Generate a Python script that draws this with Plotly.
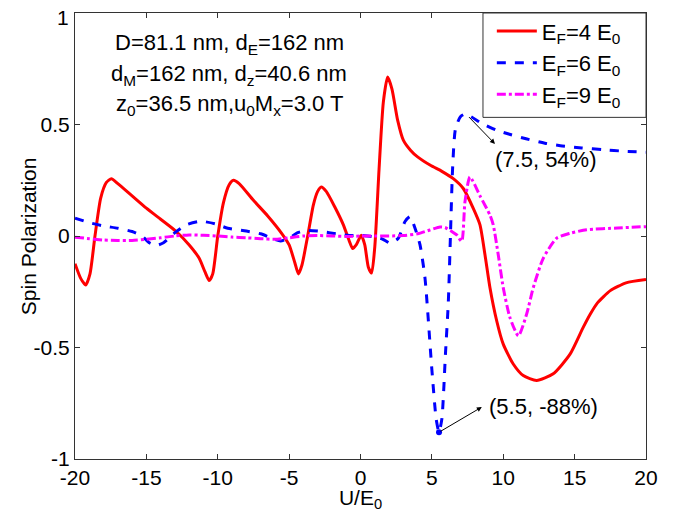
import plotly.graph_objects as go

# ---- data ----
red_x = [-20, -19.6, -19.25, -18.95, -18.6, -18.2, -17.8, -17.45, -17.0, -16.0, -15.0, -14.0, -13.0, -12.0,
         -11.3, -10.9, -10.6, -10.35, -10.0, -9.6, -9.2, -8.9, -8.5, -7.5, -6.5, -5.5, -5.0, -4.6, -4.35,
         -4.1, -3.7, -3.3, -3.0, -2.75, -2.4, -1.8, -1.2, -0.8, -0.55, -0.3, 0.05, 0.3, 0.55, 0.78, 1.0,
         1.3, 1.6, 1.9, 2.2, 2.6, 3.0, 3.5, 4.0, 4.9, 5.7, 6.5, 7.2, 7.9, 8.37, 8.72, 9.07, 9.54, 10.0,
         10.7, 11.4, 12.34, 13.5, 14.68, 15.6, 16.1, 16.6, 17.5, 18.6, 20.0]
red_y = [-0.124, -0.19, -0.22, -0.17, 0.0, 0.17, 0.24, 0.257, 0.235, 0.18, 0.125, 0.075, 0.025, -0.04,
         -0.1, -0.16, -0.2, -0.17, 0.0, 0.15, 0.23, 0.25, 0.235, 0.16, 0.09, 0.01, -0.04, -0.12, -0.17,
         -0.13, 0.0, 0.14, 0.2, 0.22, 0.2, 0.13, 0.05, -0.02, -0.056, -0.04, 0.003, -0.04, -0.14, -0.166, -0.05,
         0.3, 0.6, 0.713, 0.66, 0.52, 0.43, 0.385, 0.355, 0.317, 0.29, 0.257, 0.213, 0.124, 0.05, -0.084, -0.232,
         -0.38, -0.485, -0.574, -0.626, -0.648, -0.618, -0.53, -0.41, -0.35, -0.3, -0.245, -0.21, -0.195]

blue_x = [-20, -19, -18, -17, -16, -15.3, -14.8, -14.3, -13.8, -13.0, -12.2, -11.2, -10.2, -9.3, -8.0,
          -7.0, -6.2, -5.6, -5.0, -4.4, -3.8, -3.0, -2.2, -1.5, -0.8, 0.0, 0.8, 1.4, 1.72, 2.07, 2.65, 3.12,
          3.47, 3.82, 4.17, 4.52, 5.0, 5.3, 5.5, 5.7, 5.95, 6.15, 6.3, 6.45, 6.65, 7.0, 7.35, 8.5, 9.5, 10.5,
          11.6, 13.0, 14.0, 15.5, 17.0, 18.5, 20.0]
blue_y = [0.08, 0.06, 0.045, 0.035, 0.02, 0.0, -0.03, -0.042, -0.03, 0.015, 0.05, 0.066, 0.055, 0.035, 0.022,
          0.01, -0.01, -0.022, -0.01, 0.015, 0.025, 0.022, 0.015, 0.008, 0.002, 0.003, -0.002, -0.01, -0.02, -0.032,
          -0.01, 0.065, 0.087, 0.035, -0.04, -0.19, -0.6, -0.82, -0.88, -0.82, -0.53, -0.3, 0.0, 0.3, 0.48, 0.535,
          0.547, 0.505, 0.475, 0.455, 0.436, 0.415, 0.405, 0.395, 0.387, 0.38, 0.376]

mag_x = [-20, -19, -18, -17, -16, -15, -14, -13, -12, -11, -10, -9, -8, -7, -6, -5, -4, -3, -2, -1, 0, 1, 2, 3,
         4.0, 4.87, 5.57, 5.92, 6.4, 6.74, 7.09, 7.32, 7.67, 8.37, 9.07, 9.3, 9.65, 10.0, 10.47, 11.06, 11.64,
         12.1, 12.8, 13.74, 14.68, 15.85, 18.0, 20.0]
mag_y = [-0.005, -0.012, -0.018, -0.02, -0.02, -0.015, -0.008, 0.0, 0.005, 0.003, 0.0, -0.005, -0.008, -0.012,
         -0.015, -0.008, 0.0, 0.002, 0.0, -0.002, 0.0, 0.0, 0.0, 0.002, 0.01, 0.027, 0.04, 0.038, 0.02, 0.005,
         -0.024, 0.154, 0.265, 0.18, 0.094, 0.05, -0.084, -0.232, -0.366, -0.448, -0.35, -0.232, -0.1, -0.01,
         0.012, 0.028, 0.036, 0.042]

series_names = ["E<sub>F</sub>=4 E<sub>0</sub>", "E<sub>F</sub>=6 E<sub>0</sub>", "E<sub>F</sub>=9 E<sub>0</sub>"]

x_ticks = [-20, -15, -10, -5, 0, 5, 10, 15, 20]
x_tick_labels = ["-20", "-15", "-10", "-5", "0", "5", "10", "15", "20"]
y_ticks = [-1, -0.5, 0, 0.5, 1]
y_tick_labels = ["-1", "-0.5", "0", "0.5", ""]   # top label "1" drawn separately so it is not clipped
y_top_label = "1"

# annotated extrema
peak_pt = (7.5, 0.54)
dip_pt = (5.5, -0.88)
peak_label = "(7.5, 54%)"
dip_label = "(5.5, -88%)"

info_lines = ["D=81.1 nm, d<sub>E</sub>=162 nm",
              "d<sub>M</sub>=162 nm, d<sub>z</sub>=40.6 nm",
              "z<sub>0</sub>=36.5 nm,u<sub>0</sub>M<sub>x</sub>=3.0 T"]

FONT = "Liberation Sans, Arial, sans-serif"

fig = go.Figure()
fig.add_trace(go.Scatter(x=red_x, y=red_y, mode="lines", name=series_names[0],
                         line=dict(color="#ff0000", width=3, shape="spline", smoothing=0.6)))
fig.add_trace(go.Scatter(x=blue_x, y=blue_y, mode="lines", name=series_names[1],
                         line=dict(color="#0000ff", width=3, dash="dash", shape="spline", smoothing=0.6)))
fig.add_trace(go.Scatter(x=mag_x, y=mag_y, mode="lines", name=series_names[2],
                         line=dict(color="#ff00ff", width=3, dash="dashdot", shape="spline", smoothing=0.6)))
fig.add_trace(go.Scatter(x=[dip_pt[0]], y=[dip_pt[1]], mode="markers", showlegend=False,
                         marker=dict(color="#0000ff", size=6)))

# arrows
fig.add_annotation(x=9.42, y=0.413, ax=peak_pt[0], ay=peak_pt[1], xref="x", yref="y", axref="x", ayref="y",
                   showarrow=True, arrowhead=2, arrowsize=1, arrowwidth=1, arrowcolor="black", text="")
fig.add_annotation(x=8.5, y=-0.767, ax=dip_pt[0], ay=dip_pt[1], xref="x", yref="y", axref="x", ayref="y",
                   showarrow=True, arrowhead=2, arrowsize=1, arrowwidth=1, arrowcolor="black", text="")
fig.add_annotation(x=13.0, y=0.345, xref="x", yref="y", text=peak_label, showarrow=False,
                   font=dict(size=22, color="black", family=FONT))
fig.add_annotation(x=12.8, y=-0.764, xref="x", yref="y", text=dip_label, showarrow=False,
                   font=dict(size=22, color="black", family=FONT))

for line, yy in zip(info_lines, [0.931, 0.862, 0.793]):
    fig.add_annotation(x=0.27, y=yy, xref="paper", yref="paper", xanchor="center", yanchor="middle",
                       text=line, showarrow=False, font=dict(size=22, color="black", family=FONT))

# y axis title
fig.add_annotation(x=-0.082, y=0.5, xref="paper", yref="paper", xanchor="center", yanchor="middle",
                   text="Spin Polarization", textangle=-90, showarrow=False,
                   font=dict(size=21, color="black", family=FONT))

# top y tick label
fig.add_annotation(x=-0.008, y=0.99, xref="paper", yref="paper", xanchor="right", yanchor="middle",
                   text=y_top_label, showarrow=False, borderpad=0,
                   font=dict(size=21, color="black", family=FONT))

# legend frame
fig.add_shape(type="rect", xref="paper", yref="paper", x0=0.7145, x1=1.0, y0=0.766, y1=1.0,
              line=dict(color="#333333", width=1), fillcolor="white", layer="above")

axis_common = dict(showline=True, linecolor="#333333", linewidth=1, mirror="ticks", ticks="inside",
                   ticklen=5, tickcolor="#333333", showgrid=False, zeroline=False, automargin=False,
                   ticklabeloverflow="allow", tickfont=dict(size=21, color="black", family=FONT))

fig.update_xaxes(range=[-20, 20], tickvals=x_ticks, ticktext=x_tick_labels,
                 title=dict(text="U/E<sub>0</sub>", standoff=0,
                            font=dict(size=21, color="black", family=FONT)), **axis_common)
fig.update_yaxes(range=[-1, 1], tickvals=y_ticks, ticktext=y_tick_labels, **axis_common)

fig.update_layout(
    width=683, height=512,
    margin=dict(l=75, r=37, t=10, b=53),
    plot_bgcolor="white", paper_bgcolor="white",
    font=dict(family=FONT, color="black"),
    legend=dict(x=0.73, y=1.006, xanchor="left", yanchor="top", bgcolor="rgba(0,0,0,0)",
                borderwidth=0, font=dict(size=22, color="black", family=FONT),
                tracegroupgap=0, itemwidth=40),
)

fig.write_html("out.html", config={"displayModeBar": False},
               post_script="document.body.style.margin='0';document.body.style.overflow='hidden';")
